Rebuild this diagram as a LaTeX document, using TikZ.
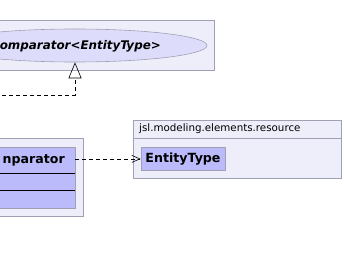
\documentclass[tikz,border=0pt]{standalone}
\usepackage{fontspec}
\setmainfont{DejaVu Sans}
\usetikzlibrary{shapes.geometric,arrows.meta}

\definecolor{pkgfill}{HTML}{EEEEFB}
\definecolor{pkgline}{HTML}{A0A0B4}
\definecolor{ifacefill}{HTML}{DDDDFB}
\definecolor{classfill}{HTML}{BBBBFC}

\begin{document}
\begin{tikzpicture}[x=1pt,y=-1pt,
	pkg/.style={draw=pkgline, fill=pkgfill, line width=0.8pt},
	classbox/.style={draw=pkgline, fill=classfill, line width=0.8pt, inner sep=0pt},
	classname/.style={font=\fontsize{12.6}{14}\selectfont\bfseries, inner sep=0pt},
	dep/.style={dashed, dash pattern=on 4pt off 3pt, line width=0.6pt},
	]
	\useasboundingbox (0,0) rectangle (344,254);
	\clip (0,0) rectangle (344,254);

	% packages
	\draw[pkg] (-5,20) rectangle (214,70);
	\draw[pkg] (-5,138) rectangle (83,216);
	\draw[pkg] (133,120) rectangle (341,178);
	\draw[pkgline, line width=0.8pt] (133,138.7) -- (341,138.7);
	\node[anchor=west, inner sep=0pt, font=\fontsize{10.3}{12}\selectfont] (pkgname) at (139,129) {jsl.modeling.elements.resource};

	% interface
	\node[ellipse, draw=pkgline, fill=ifacefill, line width=0.6pt, minimum width=264pt, minimum height=33pt, inner sep=0pt] (iface) at (75,45.5) {};
	\node[anchor=east, inner sep=0pt, font=\fontsize{11.9}{14}\selectfont\bfseries\itshape] (ifacename) at (161,46) {omparator<EntityType>};

	% classes
	\node[classbox, minimum width=80pt, minimum height=61pt] (cmp) at (35,177.5) {};
	\draw[line width=0.8pt] (-5,173) -- (75,173);
	\draw[line width=0.8pt] (-5,190) -- (75,190);
	\node[classname, anchor=east] (cmpname) at (65,160) {nparator};
	\node[classbox, minimum width=84pt, minimum height=23.7pt] (etype) at (183,158.9) {};
	\node[classname] (etypename) at (etype) {EntityType};

	% realization and dependency
	\coordinate (impl) at (-5,95);
	\draw[dep, -{Triangle[open, length=16pt, width=13pt]}] (impl) -- (iface.south |- impl) -- (iface.south);
	\draw[dep, -{Straight Barb[length=8pt, width=7pt]}] (etype.west -| cmp.east) -- (etype.west);
\end{tikzpicture}
\end{document}
